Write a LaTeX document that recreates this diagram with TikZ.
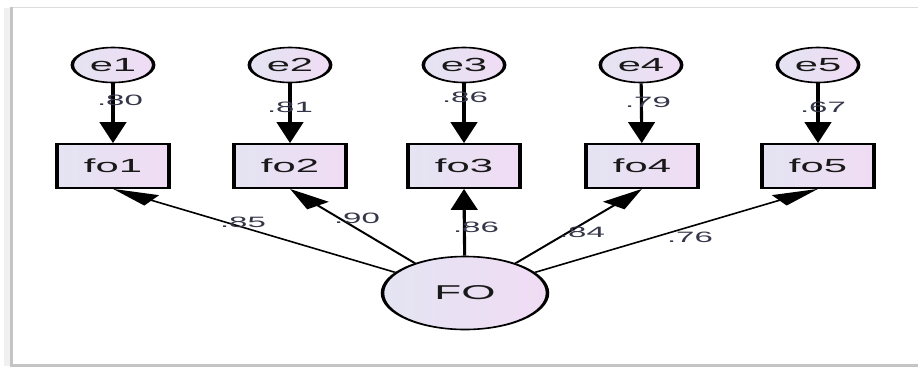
\documentclass[tikz,border=0pt]{standalone}
\usepackage{fontspec}
\setmainfont{Liberation Sans}
\usetikzlibrary{shapes.geometric,arrows.meta}
\definecolor{lavL}{HTML}{E4E4F2}
\definecolor{lavR}{HTML}{F0DCF4}
\definecolor{lblC}{HTML}{36364A}
\definecolor{frameC}{HTML}{C4C4C4}
\begin{document}
\begin{tikzpicture}[x=1pt,y=-1pt]
\useasboundingbox (0,0) rectangle (918,368);
\fill[white] (0,0) rectangle (918,368);
\draw[frameC!60, line width=1pt] (11,7.5) -- (918,7.5);
\draw[frameC!25, line width=6pt] (7,8) -- (7,366);
\draw[frameC, line width=3pt] (11,7) -- (11,365) -- (918,365);
\tikzset{
  errnode/.style={ellipse, draw, line width=1.6pt, minimum width=37pt, minimum height=35pt, inner sep=0pt,
    left color=lavL, right color=lavR, text=black!90, font=\fontsize{19}{19}\selectfont},
  obsnode/.style={rectangle, draw, line width=1.8pt, minimum width=51pt, minimum height=44pt, inner sep=0pt,
    left color=lavL, right color=lavR, text=black!90, font=\fontsize{19}{19}\selectfont},
  latnode/.style={ellipse, draw, line width=1.6pt, minimum width=75pt, minimum height=73pt, inner sep=0pt,
    left color=lavL, right color=lavR, text=black!90, font=\fontsize{20}{20}\selectfont},
  ldlabel/.style={font=\fontsize{15}{15}\selectfont, text=lblC, inner sep=0pt},
  arr/.style={line width=1.4pt, -{Triangle[length=21pt,width=12pt]}},
}
\begin{scope}[transform canvas={xscale=2.2}, x=0.454545pt, y=-1pt]
  \node[errnode] (e1) at (113,65) {e1};
  \node[errnode] (e2) at (290,65) {e2};
  \node[errnode] (e3) at (464,65) {e3};
  \node[errnode] (e4) at (641,65) {e4};
  \node[errnode] (e5) at (818,65) {e5};
  \node[obsnode] (fo1) at (113,166) {fo1};
  \node[obsnode] (fo2) at (290,166) {fo2};
  \node[obsnode] (fo3) at (464,166) {fo3};
  \node[obsnode] (fo4) at (642,166) {fo4};
  \node[obsnode] (fo5) at (818,166) {fo5};
  \node[latnode] (FO) at (465,293) {FO};
  \foreach \i in {1,...,5} {\draw[arr] (e\i) -- (fo\i);}
  \draw[arr] (FO) -- (fo1.south);
  \draw[arr] (FO) -- (fo2.south);
  \draw[arr] (FO) -- (fo3.south);
  \draw[arr] (FO) -- (fo4.south);
  \draw[arr] (FO) -- (fo5.south);
  \node[ldlabel] (l1) at (120,100) {.80};
  \node[ldlabel] (l2) at (290,107) {.81};
  \node[ldlabel] (l3) at (465,97) {.86};
  \node[ldlabel] (l4) at (648,102) {.79};
  \node[ldlabel] (l5) at (823,107) {.67};
  \node[ldlabel] (m1) at (243,222) {.85};
  \node[ldlabel] (m2) at (357,218) {.90};
  \node[ldlabel] (m3) at (476,227) {.86};
  \node[ldlabel] (m4) at (582,232) {.84};
  \node[ldlabel] (m5) at (690,237) {.76};
\end{scope}
\end{tikzpicture}
\end{document}
